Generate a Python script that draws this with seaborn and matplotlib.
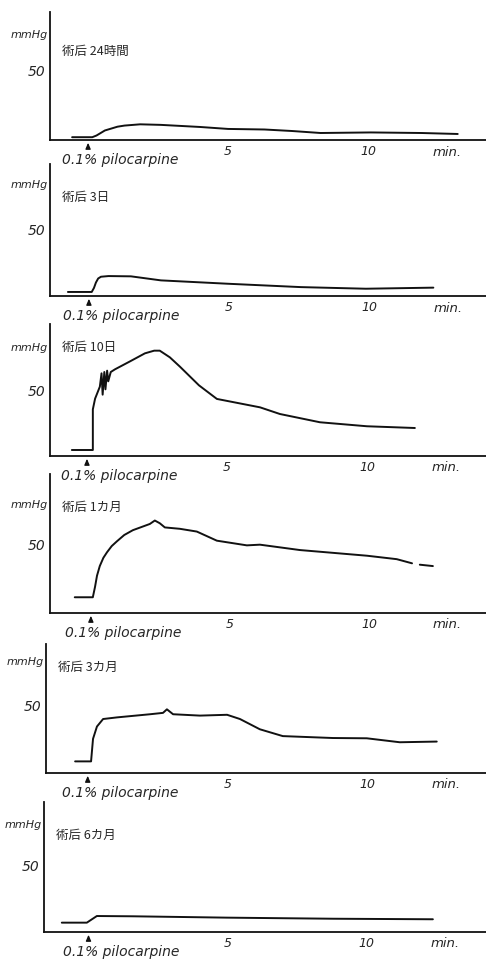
import numpy as np
import pandas as pd
import matplotlib
matplotlib.use('Agg')
import matplotlib.pyplot as plt
import seaborn as sns

# panel titles (time after surgery)
titles = ['術后 24時間', '術后 3日', '術后 10日', '術后 1カ月', '術后 3カ月', '術后 6カ月']

# time (min, 0 = 0.1% pilocarpine) and pressure (mmHg)
t_24h = [-0.57, 0.15, 0.3, 0.45, 0.6, 0.8, 1.05, 1.3, 1.86, 2.6, 4.0, 5.0, 6.3, 7.3, 8.3, 10.1, 11.9, 13.2]
p_24h = [2.0, 2.0, 3.2, 5.0, 6.8, 8.0, 9.5, 10.3, 11.2, 10.8, 9.3, 7.9, 7.5, 6.4, 5.0, 5.4, 5.0, 4.3]

t_3d = [-0.75, 0.1, 0.18, 0.25, 0.33, 0.43, 0.7, 1.5, 2.57, 4.96, 7.57, 9.89, 12.3]
p_3d = [3.0, 3.0, 6.0, 10.0, 13.0, 14.3, 14.8, 14.6, 11.6, 9.1, 6.6, 5.4, 6.2]

t_10d = [-0.54, 0.21, 0.21, 0.29, 0.46, 0.52, 0.56, 0.62, 0.66, 0.72, 0.76, 0.85, 1.0,
         1.54, 2.07, 2.4, 2.6, 2.96, 3.32, 4.0, 4.64, 6.18, 6.89, 8.32, 10.0, 11.71]
p_10d = [4.5, 4.5, 35, 43, 52, 62, 46, 63, 50, 64, 56, 63, 65,
         71, 77, 79, 79, 74, 67, 53, 42.8, 36.5, 31.5, 25.3, 22.3, 21]

t_1m = [-0.58, 0.07, 0.15, 0.22, 0.32, 0.45, 0.58, 0.75, 0.94, 1.2, 1.51, 2.12, 2.3, 2.48, 2.66, 3.2, 3.81,
        4.53, 5.61, 6.08, 7.52, 9.93, 11.0, 11.55]
p_1m = [11.4, 11.4, 19, 27, 34, 40, 44, 48.5, 52, 56.5, 60, 64.5, 67, 65, 62, 61, 59,
        52.4, 49, 49.5, 45.6, 41.5, 39, 36]
t_1m_tail = [11.83, 12.3]
p_1m_tail = [35, 34]

t_3m = [-0.45, 0.12, 0.19, 0.33, 0.55, 1.05, 2.23, 2.69, 2.83, 3.05, 4.01, 4.98, 5.44,
        6.15, 6.97, 8.76, 9.97, 11.15, 12.47]
p_3m = [8.5, 8.5, 25, 34, 39.5, 40.7, 43, 44, 46.6, 43, 42, 42.6, 39.5,
        32, 27, 25.6, 25.4, 22.5, 23]

t_6m = [-0.96, -0.06, 0.3, 1.59, 4.97, 8.79, 12.38]
p_6m = [6.9, 6.9, 11.8, 11.6, 10.6, 9.8, 9.4]

traces = [(t_24h, p_24h), (t_3d, p_3d), (t_10d, p_10d),
          (t_1m, p_1m), (t_3m, p_3m), (t_6m, p_6m)]

x_ticks = [5, 10]
y_ticks = [50]

# layout in pixels: left spine, top of y axis, x axis; plus x and y limits
boxes = [(50, 13, 141), (50, 165, 297), (50, 325, 457),
         (50, 475, 614), (46, 645, 774), (44, 803, 933)]
xlims = [(-1.36, 14.21), (-1.39, 14.18), (-1.32, 14.25),
         (-1.47, 14.21), (-1.49, 14.23), (-1.6, 14.29)]
ytops = [91.4, 98, 99, 100.7, 94.4, 96]
label_y = [(76, 64), (83, 74), (82, 82), (79, 77), (82, 78), (80, 72)]

sns.set_style('white')
plt.rcParams['font.family'] = ['DejaVu Sans', 'Noto Sans CJK JP']

W, H = 486, 962
fig = plt.figure(figsize=(W / 100, H / 100), dpi=100)

for i, (t, p) in enumerate(traces):
    left, top, bottom = boxes[i]
    ax = fig.add_axes([left / W, 1 - bottom / H, (W - left) / W, (bottom - top) / H])
    df = pd.DataFrame({'t': t, 'p': p})
    sns.lineplot(data=df, x='t', y='p', ax=ax, color='#111111', lw=1.4,
                 estimator=None, sort=False)
    if i == 3:
        tail = pd.DataFrame({'t': t_1m_tail, 'p': p_1m_tail})
        sns.lineplot(data=tail, x='t', y='p', ax=ax, color='#111111', lw=1.4,
                     estimator=None, sort=False)
    ax.set_xlim(*xlims[i])
    ax.set_ylim(0, ytops[i])
    sns.despine(ax=ax)
    for s in ['left', 'bottom']:
        ax.spines[s].set_color('#111111')
        ax.spines[s].set_linewidth(1.3)
    ax.set_xlabel('')
    ax.set_ylabel('')
    ax.set_xticks(x_ticks)
    ax.set_yticks(y_ticks)
    ax.tick_params(direction='in', length=4, width=1.1, color='#111111', pad=3)
    ax.tick_params(axis='x', labelsize=9)
    ax.tick_params(axis='y', labelsize=10)
    for lab in ax.get_xticklabels() + ax.get_yticklabels():
        lab.set_style('italic')
    ax.patch.set_alpha(0)

    my, ty = label_y[i]
    ax.annotate('mmHg', xy=(0, my), xycoords=ax.get_yaxis_transform(),
                xytext=(-2, 0), textcoords='offset pixels', ha='right', va='center',
                fontsize=8, style='italic')
    ax.text(12 / (W - left), ty, titles[i], transform=ax.get_yaxis_transform(),
            ha='left', va='center', fontsize=9,
            family=['Noto Sans CJK JP', 'DejaVu Sans'])
    ax.annotate('', xy=(0, 0), xycoords=ax.get_xaxis_transform(),
                xytext=(0, -10), textcoords='offset pixels',
                arrowprops=dict(arrowstyle='-|>,head_width=0.15,head_length=0.35',
                                color='#111111', lw=0.9))
    ax.annotate('0.1% pilocarpine', xy=(-0.93, 0), xycoords=ax.get_xaxis_transform(),
                xytext=(0, -19), textcoords='offset pixels', ha='left', va='center',
                fontsize=10, style='italic')
    ax.annotate('min.', xy=(12.3, 0), xycoords=ax.get_xaxis_transform(),
                xytext=(0, -11), textcoords='offset pixels', ha='left', va='center',
                fontsize=9.5, style='italic')

fig.savefig('out.png', dpi=100, facecolor='white')
